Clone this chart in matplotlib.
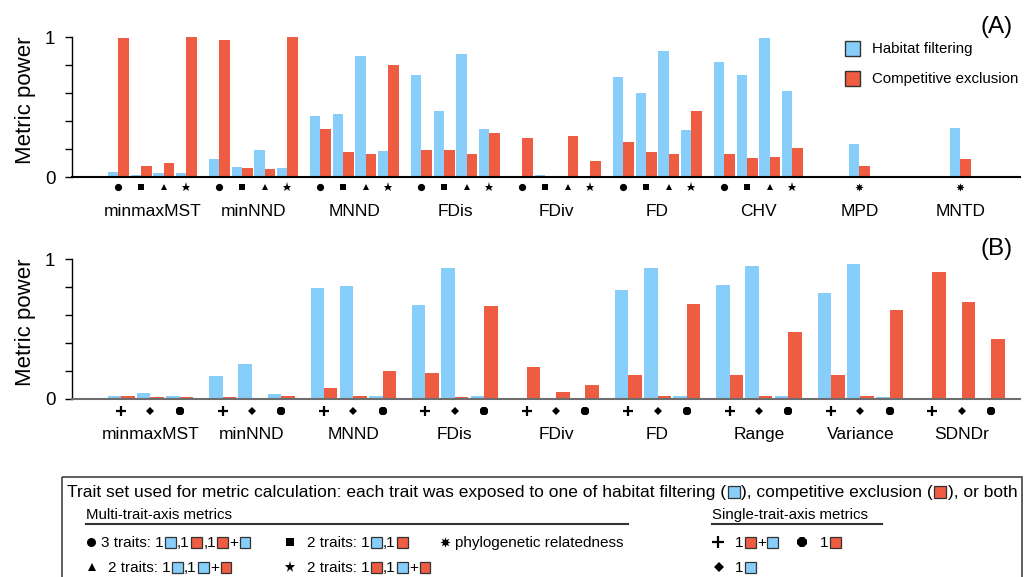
import matplotlib.pyplot as plt
from matplotlib.patches import Rectangle

plt.rcParams['font.family'] = ['Liberation Sans', 'DejaVu Sans']

HAB = '#87cefa'
COMP = '#ee5c42'
EDGE = '#333333'

# Panel A: metric power by metric and trait set (multi-trait-axis metrics)
a_metrics = ['minmaxMST', 'minNND', 'MNND', 'FDis', 'FDiv', 'FD', 'CHV', 'MPD', 'MNTD']
a_habitat = [
    [0.034, 0.012, 0.026, 0.026],
    [0.126, 0.069, 0.190, 0.062],
    [0.433, 0.448, 0.862, 0.183],
    [0.726, 0.469, 0.876, 0.340],
    [0.005, 0.012, 0.005, 0.005],
    [0.712, 0.598, 0.898, 0.333],
    [0.819, 0.726, 0.990, 0.612],
    [0.233],
    [0.348],
]
a_competition = [
    [0.993, 0.076, 0.098, 1.000],
    [0.976, 0.062, 0.055, 1.000],
    [0.340, 0.176, 0.162, 0.798],
    [0.190, 0.190, 0.162, 0.312],
    [0.276, 0.005, 0.290, 0.112],
    [0.248, 0.176, 0.162, 0.469],
    [0.162, 0.134, 0.140, 0.205],
    [0.076],
    [0.126],
]
a_symbols = [['o', 's', '^', '*']] * 7 + [[(8, 1, 0)], [(8, 1, 0)]]

# Panel B: single-trait-axis trait sets
b_metrics = ['minmaxMST', 'minNND', 'MNND', 'FDis', 'FDiv', 'FD', 'Range', 'Variance', 'SDNDr']
b_habitat = [
    [0.019, 0.040, 0.019],
    [0.162, 0.248, 0.033],
    [0.792, 0.807, 0.019],
    [0.670, 0.935, 0.019],
    [0.0, 0.0, 0.0],
    [0.777, 0.935, 0.019],
    [0.813, 0.950, 0.019],
    [0.756, 0.964, 0.012],
    [0.0, 0.0, 0.0],
]
b_competition = [
    [0.019, 0.012, 0.012],
    [0.012, 0.003, 0.019],
    [0.076, 0.019, 0.198],
    [0.184, 0.012, 0.663],
    [0.227, 0.048, 0.098],
    [0.170, 0.019, 0.677],
    [0.170, 0.019, 0.477],
    [0.170, 0.019, 0.634],
    [0.907, 0.692, 0.427],
]
b_symbols = [['+', 'D', '8']] * 9

marker_style = {
    'o': dict(ms=5.2), 's': dict(ms=4.6), '^': dict(ms=5.0), '*': dict(ms=6.5),
    (8, 1, 0): dict(ms=6.0), '+': dict(ms=7.0, mew=1.6), 'D': dict(ms=4.2),
    '8': dict(ms=6.0),
}


def draw_marker(ax, x, y, m, scale=1.0):
    st = dict(marker_style[m])
    st['ms'] *= scale
    if m != '+':
        st.setdefault('mew', 0)
    ax.plot([x], [y], ls='none', marker=m, color='black', markeredgecolor='black',
            clip_on=False, **st)


fig = plt.figure(figsize=(10.24, 5.77), dpi=100)


def panel(rect, metrics, hab, comp, symbols, step, width, xlim, base_color,
          mark_y, label_y, tag):
    ax = fig.add_axes(rect)
    xs_h, xs_c, vh, vc = [], [], [], []
    for k in range(len(metrics)):
        n = len(hab[k])
        for j in range(n):
            x = k + (j - (n - 1) / 2) * step
            xs_h.append(x - width / 2)
            xs_c.append(x + width / 2)
            vh.append(hab[k][j])
            vc.append(comp[k][j])
            draw_marker(ax, x, mark_y, symbols[k][j])
        ax.text(k, label_y, metrics[k], ha='center', va='baseline', fontsize=12.5)
    ax.bar(xs_h, vh, width, color=HAB, linewidth=0)
    ax.bar(xs_c, vc, width, color=COMP, linewidth=0)

    ax.set_xlim(*xlim)
    ax.set_ylim(0, 1)
    ax.patch.set_visible(False)
    for s in ['top', 'right']:
        ax.spines[s].set_visible(False)
    ax.spines['bottom'].set_color(base_color)
    ax.spines['bottom'].set_linewidth(1.5)
    ax.spines['left'].set_linewidth(1.0)
    ax.set_xticks([])
    ax.set_yticks([0, 0.2, 0.4, 0.6, 0.8, 1])
    ax.set_yticklabels(['0', '', '', '', '', '1'])
    ax.tick_params(axis='y', direction='out', length=5, width=1, pad=7, labelsize=13.5)
    ax.text(-0.049, 0.545, 'Metric power', transform=ax.transAxes, rotation=90,
            ha='center', va='center', fontsize=16)
    ax.text(0.975, 1.07, tag, transform=ax.transAxes, ha='center', va='center',
            fontsize=17.5)
    return ax


axA = panel([72 / 1024, 1 - 177 / 577, 948 / 1024, 140 / 577],
            a_metrics, a_habitat, a_competition, a_symbols,
            0.2245, 0.104, (-0.796, 8.59), 'black', -0.069, -0.279, '(A)')
axB = panel([72 / 1024, 1 - 398.5 / 577, 948 / 1024, 139.5 / 577],
            b_metrics, b_habitat, b_competition, b_symbols,
            0.289, 0.133, (-0.774, 8.574), '#6e6e6e', -0.09, -0.29, '(B)')

# overlay in pixel units for the legends
ov = fig.add_axes([0, 0, 1, 1])
ov.set_xlim(0, 1024)
ov.set_ylim(577, 0)
ov.axis('off')

# legend of panel A
for y, col, lab in [(48.5, HAB, 'Habitat filtering'), (78.5, COMP, 'Competitive exclusion')]:
    ov.add_patch(Rectangle((845, y - 7.5), 15, 15, facecolor=col, edgecolor=EDGE, lw=1.0))
    ov.text(872, y, lab, ha='left', va='center', fontsize=10.8)

renderer = fig.canvas.get_renderer()


def inline(x, base, tokens, size, sq):
    for tok in tokens:
        if isinstance(tok, tuple):
            ov.add_patch(Rectangle((x + 1.5, base + 0.5 - sq), sq, sq, facecolor=tok[1],
                                   edgecolor=EDGE, lw=0.9))
            x += sq + 3
        else:
            t = ov.text(x, base, tok, ha='left', va='baseline', fontsize=size)
            x += t.get_window_extent(renderer).width
    return x


H = ('sq', HAB)
C = ('sq', COMP)

# trait set key
ov.add_patch(Rectangle((62, 477), 960, 130, facecolor='none', edgecolor=EDGE, lw=1.1,
                       clip_on=False))
inline(67, 497, ['Trait set used for metric calculation: each trait was exposed to one of '
                 'habitat filtering (', H, '), competitive exclusion (', C, '), or both'],
       12.5, 12)

ov.text(86, 519, 'Multi-trait-axis metrics', ha='left', va='baseline', fontsize=10.8)
ov.plot([86, 628], [524, 524], color=EDGE, lw=1.5)
ov.text(712, 519, 'Single-trait-axis metrics', ha='left', va='baseline', fontsize=10.8)
ov.plot([712, 882], [524, 524], color=EDGE, lw=1.5)

row1, row2 = 547, 572
key_rows = [
    ('o', 91, row1, 101, ['3 traits: 1', H, ',1', C, ',1', C, '+', H]),
    ('s', 290, row1, 307, ['2 traits: 1', H, ',1', C]),
    ((8, 1, 0), 445, row1, 455, ['phylogenetic relatedness']),
    ('^', 92, row2, 108, ['2 traits: 1', H, ',1', H, '+', C]),
    ('*', 290, row2, 307, ['2 traits: 1', C, ',1', H, '+', C]),
    ('+', 718, row1, 735, ['1', C, '+', H]),
    ('8', 802, row1, 820, ['1', C]),
    ('D', 719, row2, 735, ['1', H]),
]
for m, mx, base, tx, toks in key_rows:
    draw_marker(ov, mx, base - 5.5, m, scale=1.25)
    inline(tx, base, toks, 11.0, 10.5)

fig.savefig('out.png', dpi=100)
